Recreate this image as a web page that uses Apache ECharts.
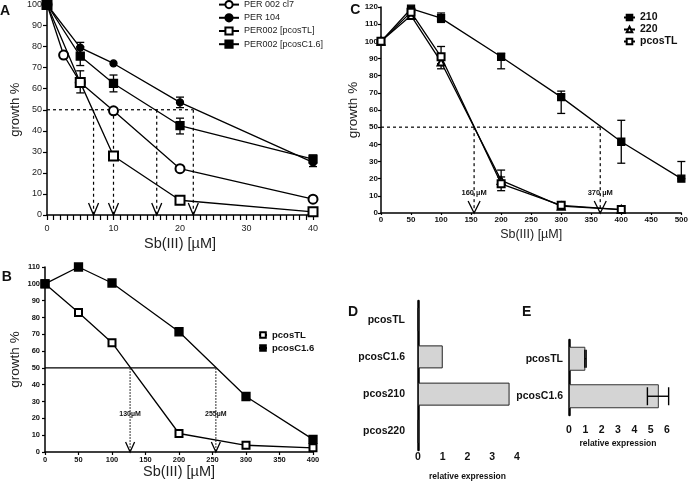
<!DOCTYPE html>
<html><head><meta charset="utf-8">
<script src="https://cdn.jsdelivr.net/npm/echarts@6/dist/echarts.min.js"></script>
<style>html,body{margin:0;padding:0;background:#fff}#c{width:691px;height:483px}</style>
</head><body><div id="c"></div>
<script>
// ---------- Panel A ----------
const aCl7X = [0, 2.5, 5, 10, 20, 40];
const aCl7Y = [100, 76, 63, 49.5, 22, 7.5];
const aX = [0, 5, 10, 20, 40];
const aPer104Y = [100, 79.5, 72, 53.5, 25];
const aPer104Lo = [null, 77, null, 51, 23];
const aPer104Hi = [null, 82, null, 56, 27];
const aTLY = [100, 63, 28, 7, 1.5];
const aTLLo = [null, 58, null, null, null];
const aTLHi = [null, 68.5, null, null, null];
const aC16Y = [100, 75.5, 62.5, 42.5, 26.5];
const aC16Lo = [null, 71, 58.5, 38.5, 24.5];
const aC16Hi = [null, 80, 66.5, 46, 28.5];
const aIC = [7, 10, 16.5, 22];
const aNames = ['PER 002 cl7', 'PER 104', 'PER002 [pcosTL]', 'PER002 [pcosC1.6]'];

// ---------- Panel C ----------
const cX = [0, 50, 100, 200, 300, 400, 500];
const c210Y = [100, 119, 113.5, 91, 67.5, 41.5, 20];
const c210Lo = [null, null, 111, 84, 58, 29, 20];
const c210Hi = [null, null, 116.5, 93, 71, 54, 30];
const cX2 = [0, 50, 100, 200, 300, 400];
const c220Y = [100, 115, 88, 19, 4, 2];
const c220Lo = [null, 113, 84, 15, null, null];
const c220Hi = [null, 117, 92, 25, null, null];
const cTLY = [100, 117, 91, 17, 4.5, 2];
const cTLLo = [null, 115, 87, 13, null, null];
const cTLHi = [null, 119, 97, 21, null, null];
const cIC = [155, 365];
const cICLabels = ['160 µM', '370 µM'];

// ---------- Panel B ----------
const bX = [0, 50, 100, 200, 300, 400];
const bTLY = [100, 83, 65, 11, 4, 2.5];
const bC16Y = [100, 110, 100.5, 71.5, 33, 7.5];
const bIC = [127, 255];
const bICLabels = ['130µM', '255µM'];

// ---------- Panel D ----------
const dCats = ['pcosTL', 'pcosC1.6', 'pcos210', 'pcos220'];
const dVals = [0, 1, 3.7, 0];

// ---------- Panel E ----------
const eCats = ['pcosTL', 'pcosC1.6'];
const eVals = [1, 5.5];
const eLo = [0.97, 4.8];
const eHi = [1.05, 6.1];

const FF = 'Liberation Sans';
const zip = (xs, ys) => xs.map((x, i) => [x, ys[i]]);

function lineS(name, xs, ys, gi, symbol, size, lw) {
  return {
    type: 'line', name, xAxisIndex: gi, yAxisIndex: gi, data: zip(xs, ys),
    symbol, symbolSize: size, z: 3, animation: false,
    lineStyle: { color: '#000', width: lw || 1.3 },
    itemStyle: { color: '#000', borderColor: '#000', borderWidth: 1.3 }
  };
}
function errS(gi, xs, lo, hi, cap) {
  const data = [];
  xs.forEach((x, i) => { if (lo[i] != null) data.push([x, lo[i], hi[i]]); });
  return {
    type: 'custom', xAxisIndex: gi, yAxisIndex: gi, data, z: 1, silent: true, animation: false,
    encode: { x: 0, y: [1, 2] },
    renderItem: (p, api) => {
      const x = api.value(0);
      const a = api.coord([x, api.value(1)]), b = api.coord([x, api.value(2)]);
      const st = { stroke: '#000', lineWidth: 1.3 };
      return { type: 'group', children: [
        { type: 'line', shape: { x1: a[0], y1: a[1], x2: b[0], y2: b[1] }, style: st },
        { type: 'line', shape: { x1: a[0] - cap, y1: a[1], x2: a[0] + cap, y2: a[1] }, style: st },
        { type: 'line', shape: { x1: b[0] - cap, y1: b[1], x2: b[0] + cap, y2: b[1] }, style: st }
      ] };
    }
  };
}
function refS(gi, pts, type, color) {
  return {
    type: 'line', xAxisIndex: gi, yAxisIndex: gi, data: pts, symbol: 'none', silent: true, z: 1,
    animation: false, lineStyle: { color: color || '#000', width: 1.2, type: type }
  };
}
function arrowS(gi, ics, hw, h) {
  return {
    type: 'custom', xAxisIndex: gi, yAxisIndex: gi, data: ics.map(v => [v, 0]), z: 4, silent: true,
    animation: false, encode: { x: 0, y: 1 },
    renderItem: (p, api) => {
      const c = api.coord([api.value(0), 0]);
      return { type: 'polyline', shape: { points: [[c[0] - hw, c[1] - h], [c[0], c[1]], [c[0] + hw, c[1] - h]] },
        style: { stroke: '#000', lineWidth: 1.3, fill: null } };
    }
  };
}
function labelS(gi, ics, labels, dy, size) {
  return {
    type: 'custom', xAxisIndex: gi, yAxisIndex: gi, data: ics.map((v, i) => [v, 0, i]), z: 5, silent: true,
    animation: false, encode: { x: 0, y: 1 },
    renderItem: (p, api) => {
      const c = api.coord([api.value(0), 0]);
      return { type: 'text', style: { text: labels[api.value(2)], x: c[0], y: c[1] + dy,
        textAlign: 'center', textVerticalAlign: 'middle', font: 'bold ' + size + 'px "' + FF + '"', fill: '#111' } };
    }
  };
}
function refLines(gi, ics, type, vtype, vcolor) {
  const out = [refS(gi, [[0, 50], [Math.max(...ics), 50]], type)];
  ics.forEach(v => out.push(refS(gi, [[v, 50], [v, 0]], vtype || type, vcolor)));
  return out;
}

const axLine = (w) => ({ lineStyle: { color: '#000', width: w || 1.5 } });
function valAxis(gi, min, max, interval, o) {
  return Object.assign({
    type: 'value', gridIndex: gi, min, max, interval, splitLine: { show: false },
    axisLine: axLine(), axisTick: { length: 4, lineStyle: { color: '#000', width: 1.2 } },
  }, o);
}

const series = [];
// A
series.push(...refLines(0, aIC, [3, 3]));
series.push(arrowS(0, aIC, 5, 12));
series.push(errS(0, aX, aPer104Lo, aPer104Hi, 4));
series.push(errS(0, aX, aC16Lo, aC16Hi, 4));
series.push(errS(0, aX, aTLLo, aTLHi, 4));
series.push(lineS(aNames[0], aCl7X, aCl7Y, 0, 'emptyCircle', 9));
series.push(lineS(aNames[1], aX, aPer104Y, 0, 'circle', 7));
series.push(lineS(aNames[2], aX, aTLY, 0, 'emptyRect', 9));
series.push(lineS(aNames[3], aX, aC16Y, 0, 'rect', 8));
// C
series.push(...refLines(1, cIC, [3, 3]));
series.push(arrowS(1, cIC, 6, 12));
series.push(labelS(1, cIC, cICLabels, -20, 7.5));
series.push(errS(1, cX, c210Lo, c210Hi, 4));
series.push(errS(1, cX2, c220Lo, c220Hi, 4));
series.push(errS(1, cX2, cTLLo, cTLHi, 4));
series.push(lineS('210', cX, c210Y, 1, 'rect', 7));
series.push(lineS('220', cX2, c220Y, 1, 'emptyTriangle', 7));
series.push(lineS('pcosTL', cX2, cTLY, 1, 'emptyRect', 7));
// B
series.push(...refLines(2, bIC, 'solid', [2, 1], '#555'));
series.push(arrowS(2, bIC, 4.5, 10));
series.push(labelS(2, bIC, bICLabels, -38, 7));
series.push(lineS('pcosTL', bX, bTLY, 2, 'emptyRect', 7));
series.push(lineS('pcosC1.6', bX, bC16Y, 2, 'rect', 8));
// D
series.push({ type: 'bar', xAxisIndex: 3, yAxisIndex: 3, data: dVals, barWidth: 23, animation: false,
  itemStyle: { color: '#d4d4d4', borderColor: '#222', borderWidth: 1 } });
// E
series.push({ type: 'bar', xAxisIndex: 4, yAxisIndex: 4, data: eVals, barWidth: 24, animation: false, z: 2,
  itemStyle: { color: '#d4d4d4', borderColor: '#333', borderWidth: 1 } });
series.push({
  type: 'custom', xAxisIndex: 4, yAxisIndex: 4, data: eCats.map((c, i) => [eLo[i], eHi[i], i]), z: 3,
  silent: true, animation: false, encode: { x: [0, 1], y: 2 },
  renderItem: (p, api) => {
    const i = api.value(2);
    const a = api.coord([api.value(0), i]), b = api.coord([api.value(1), i]);
    const st = { stroke: '#000', lineWidth: 1.4 };
    return { type: 'group', children: [
      { type: 'line', shape: { x1: a[0], y1: a[1], x2: b[0], y2: b[1] }, style: st },
      { type: 'line', shape: { x1: a[0], y1: a[1] - 9, x2: a[0], y2: a[1] + 9 }, style: st },
      { type: 'line', shape: { x1: b[0], y1: b[1] - 9, x2: b[0], y2: b[1] + 9 }, style: st }
    ] };
  }
});

const smallBold = { fontSize: 8, fontWeight: 'bold', color: '#111' };
const catLabel = { fontSize: 10.5, fontWeight: 'bold', color: '#111' };
const relName = { fontSize: 8.5, fontWeight: 'bold', color: '#111' };

const option = {
  animation: false,
  backgroundColor: '#fff',
  textStyle: { fontFamily: FF },
  grid: [
    { left: 47, top: 4, width: 266, height: 211 },
    { left: 381, top: 7, width: 304, height: 206 },
    { left: 45, top: 267, width: 268, height: 185 },
    { left: 418, top: 301, width: 99, height: 149 },
    { left: 569, top: 340, width: 98, height: 75 }
  ],
  xAxis: [
    valAxis(0, 0, 40, 10, {
      axisTick: { length: 5, lineStyle: { color: '#000', width: 1.2 } },
      minorTick: { show: true, splitNumber: 10, length: 5, lineStyle: { color: '#000', width: 1.2 } },
      axisLabel: { fontSize: 9, color: '#222', margin: 9 },
      name: 'Sb(III) [µM]', nameLocation: 'middle', nameGap: 21, nameTextStyle: { fontSize: 14.5, color: '#222' }
    }),
    valAxis(1, 0, 500, 50, {
      axisTick: { length: 2, lineStyle: { color: '#000', width: 1.2 } },
      axisLabel: Object.assign({ margin: 3 }, smallBold),
      name: 'Sb(III) [µM]', nameLocation: 'middle', nameGap: 15, nameTextStyle: { fontSize: 12.5, color: '#222' }
    }),
    valAxis(2, 0, 400, 50, {
      axisTick: { length: 3, lineStyle: { color: '#000', width: 1.2 } },
      axisLabel: Object.assign({ margin: 4 }, smallBold, { fontSize: 7.5 }),
      name: 'Sb(III) [µM]', nameLocation: 'middle', nameGap: 11, nameTextStyle: { fontSize: 14.5, color: '#222' }
    }),
    valAxis(3, 0, 4, 1, {
      axisLine: axLine(2.5), axisTick: { length: 4, lineStyle: { color: '#000', width: 2.5 } },
      axisLabel: Object.assign({ margin: 2 }, catLabel),
      name: 'relative expression', nameLocation: 'middle', nameGap: 22, nameTextStyle: relName
    }),
    valAxis(4, 0, 6, 1, {
      axisLine: axLine(2.5), axisTick: { length: 6, lineStyle: { color: '#000', width: 2 } },
      axisLabel: Object.assign({ margin: 10 }, catLabel),
      name: 'relative expression', nameLocation: 'middle', nameGap: 24, nameTextStyle: relName
    })
  ],
  yAxis: [
    valAxis(0, 0, 100, 10, {
      axisLabel: { fontSize: 9, color: '#222', margin: 5 },
      name: 'growth %', nameLocation: 'middle', nameGap: 25, nameTextStyle: { fontSize: 13, color: '#222' }
    }),
    valAxis(1, 0, 120, 10, {
      axisTick: { length: 3, lineStyle: { color: '#000', width: 1.2 } },
      axisLabel: Object.assign({ margin: 3 }, smallBold),
      name: 'growth %', nameLocation: 'middle', nameGap: 10, nameTextStyle: { fontSize: 13.5, color: '#222' }
    }),
    valAxis(2, 0, 110, 10, {
      axisTick: { length: 3, lineStyle: { color: '#000', width: 1.2 } },
      axisLabel: Object.assign({ margin: 5 }, smallBold, { fontSize: 7.5 }),
      name: 'growth %', nameLocation: 'middle', nameGap: 23, nameTextStyle: { fontSize: 13.5, color: '#222' }
    }),
    { type: 'category', gridIndex: 3, data: dCats, inverse: true,
      axisLine: axLine(2.5), axisTick: { alignWithLabel: true, length: 5, lineStyle: { color: '#000', width: 2.5 } },
      axisLabel: Object.assign({ margin: 13 }, catLabel) },
    { type: 'category', gridIndex: 4, data: eCats, inverse: true,
      axisLine: axLine(2.5), axisTick: { alignWithLabel: true, length: 5, lineStyle: { color: '#000', width: 2.5 } },
      axisLabel: Object.assign({ margin: 6 }, catLabel) }
  ],
  legend: [
    { data: aNames, orient: 'vertical', left: 218, top: 0, itemWidth: 20, itemHeight: 9, itemGap: 4,
      selectedMode: false, textStyle: { fontSize: 9, color: '#222' }, padding: 0 },
    { data: ['210', '220', 'pcosTL'], orient: 'vertical', left: 623, top: 12, itemWidth: 11, itemHeight: 7, itemGap: 1,
      selectedMode: false, padding: 0,
      textStyle: { fontSize: 10.5, fontWeight: 'bold', color: '#111', lineHeight: 10 } },
    { data: ['pcosTL', 'pcosC1.6'], orient: 'vertical', left: 258, top: 330, itemWidth: 8, itemHeight: 7, itemGap: 3,
      selectedMode: false, padding: 0,
      textStyle: { fontSize: 9.5, fontWeight: 'bold', color: '#111', lineHeight: 9 } }
  ],
  graphic: [
    ['A', 5, 11.3], ['C', 355.3, 10.5], ['B', 6.7, 276.7], ['D', 353, 311.7], ['E', 526.7, 312]
  ].map(([t, x, y]) => ({ type: 'text', silent: true,
    style: { text: t, x, y, textAlign: 'center', textVerticalAlign: 'middle', font: 'bold 14px "' + FF + '"', fill: '#111' } })),
  series
};

echarts.init(document.getElementById('c'), null, { renderer: 'canvas' }).setOption(option);
</script></body></html>
